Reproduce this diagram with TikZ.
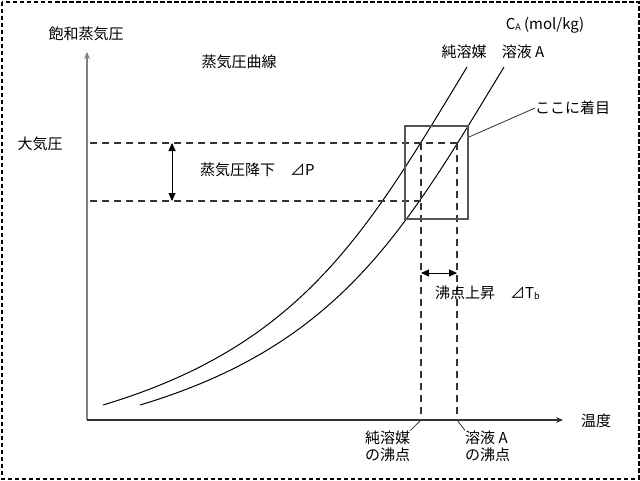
\documentclass[tikz,border=0pt]{standalone}
\usepackage{fontspec}
\setmainfont{Noto Sans CJK JP}
\usetikzlibrary{arrows.meta}
\definecolor{dashgray}{HTML}{333333}
\definecolor{axisgray}{HTML}{808080}
\definecolor{boxgray}{HTML}{555555}
\tikzset{
  lbl/.style={inner sep=0pt, font=\fontsize{15}{17}\selectfont},
  guide/.style={dash pattern=on 7pt off 5pt, line width=1.6pt, dashgray},
  curveline/.style={line width=1pt, black},
  twohead/.style={line width=1pt, {Triangle[length=8pt,width=7pt]}-{Triangle[length=8pt,width=7pt]}},
  axisline/.style={line width=1.3pt, -{Stealth[length=7pt,width=6pt]}},
  leader/.style={line width=0.8pt, dashgray},
}
\begin{document}
\begin{tikzpicture}[x=1pt,y=-1pt]
\useasboundingbox (0,0) rectangle (640,480);
\fill[white] (0,0) rectangle (640,480);
\draw[line width=2pt, dash pattern=on 4.5pt off 2.5pt] (1.5,1.5) rectangle (638.5,478.5);

% named points
\coordinate (O) at (87,420);
\coordinate (Ytop) at (87,52);
\coordinate (Xend) at (563,420);
\coordinate (yAtm) at (90,143);
\coordinate (yLow) at (90,201);
\coordinate (pAtm) at (421,143);
\coordinate (sAtm) at (457,143);
\coordinate (sLow) at (421,201);
\coordinate (bp1) at (421,420);
\coordinate (bp2) at (457,420);
\coordinate (dpT) at (172,143);
\coordinate (dpB) at (172,201);
\coordinate (dtL) at (421,273);
\coordinate (dtR) at (457,273);
\coordinate (boxA) at (405,126);
\coordinate (boxB) at (468,219);
\coordinate (boxTip) at (469,137);
\coordinate (pS) at (103,405);
\coordinate (pE) at (467,67);
\coordinate (sS) at (140,405);
\coordinate (sE) at (504,67);

% axes
\draw[axisline, axisgray] (O) -- (Ytop);
\draw[axisline, dashgray] (O) -- (Xend);

% curves
\draw[curveline] (pS) .. controls (303,345) and (367,232) .. (pE);
\draw[curveline] (sS) .. controls (340,345) and (404,232) .. (sE);

% guides
\draw[guide] (yAtm) -- (sAtm);
\draw[guide] (yLow) -- (sLow);
\draw[guide] (pAtm) -- (bp1);
\draw[guide] (sAtm) -- (bp2);

% arrows
\draw[twohead] (dpT) -- (dpB);
\draw[twohead] (dtL) -- (dtR);

% box
\draw[boxgray, line width=1.2pt] (boxA) rectangle (boxB);

% labels
\node[lbl] (ylab) at (86,34) {飽和蒸気圧};
\node[lbl] (curvelab) at (239,62) {蒸気圧曲線};
\node[lbl] (atm) at (40,144) {大気圧};
\node[lbl] (ca) at (545,25) {C\raisebox{-1.5pt}{\fontsize{9}{9}\selectfont A} (mol/kg)};
\node[lbl] (pure) at (464,52) {純溶媒};
\node[lbl] (sol) at (523,52) {溶液 A};
\node[lbl, anchor=west] (focus) at (535,108) {ここに着目};
\node[lbl, anchor=west] (dP) at (200,170) {蒸気圧降下　⊿P};
\node[lbl, anchor=west] (dT) at (435,293) {沸点上昇　⊿T\raisebox{-1.5pt}{\fontsize{9}{9}\selectfont b}};
\node[lbl, anchor=west, align=left] (bpPure) at (365,446) {純溶媒\\の沸点};
\node[lbl, anchor=west, align=left] (bpSol) at (465,446) {溶液 A\\の沸点};
\node[lbl] (temp) at (596,421) {温度};

\draw[leader] (boxTip) -- (focus.west);
\draw[leader] (bp1) -- (bpPure.north east);
\draw[leader] (bp2) -- (bpSol.north west);
\end{tikzpicture}
\end{document}
